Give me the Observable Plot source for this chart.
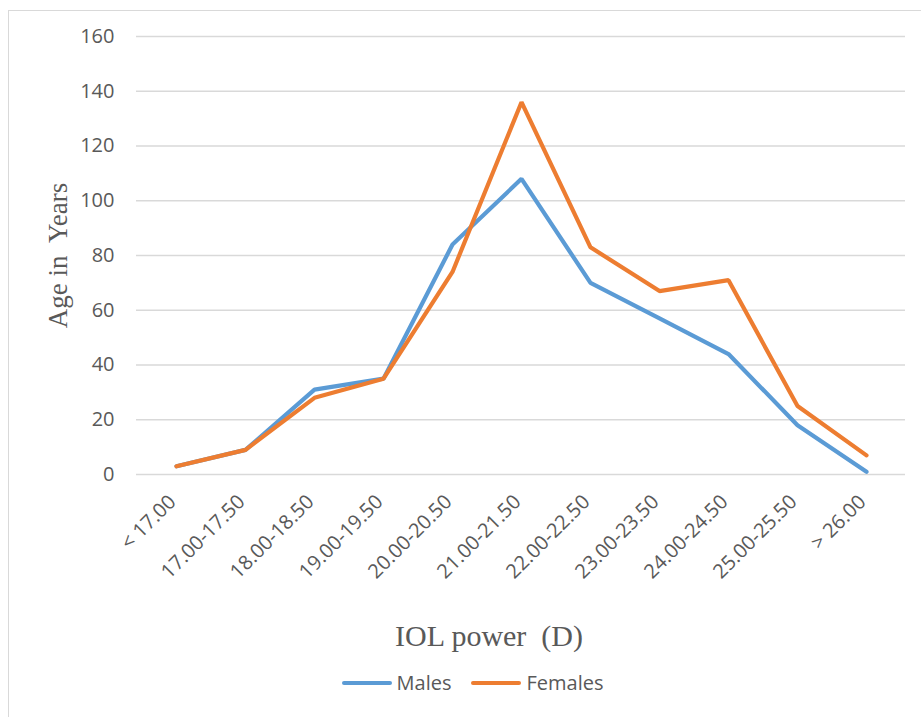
<!DOCTYPE html>
<html>
<head>
<meta charset="utf-8">
<script src="https://cdn.jsdelivr.net/npm/d3@7"></script>
<script src="https://cdn.jsdelivr.net/npm/@observablehq/plot@0.6"></script>
<style>
  html, body { margin: 0; padding: 0; background: #fff; }
  #wrap { position: relative; width: 921px; height: 717px; overflow: hidden; }
  #frame { position: absolute; left: 8px; top: 10px; width: 940px; height: 740px; border: 1.5px solid #d9d9d9; box-sizing: border-box; }
  #chart { position: absolute; left: 0; top: 0; }
  #legend { position: absolute; left: 12px; top: 669px; width: 921px; display: flex; justify-content: center; gap: 20px; font-family: "Open Sans", "Noto Sans", sans-serif; font-size: 20px; line-height: 27px; color: #595959; }
  .item { display: flex; align-items: center; }
  .sw { width: 50px; height: 4px; margin-right: 5px; border-radius: 2px; }
</style>
</head>
<body>
<div id="wrap">
  <div id="frame"></div>
  <div id="chart"></div>
  <div id="legend"></div>
</div>
<script>
const categories = ["< 17.00","17.00-17.50","18.00-18.50","19.00-19.50","20.00-20.50","21.00-21.50","22.00-22.50","23.00-23.50","24.00-24.50","25.00-25.50","> 26.00"];
const males   = [3, 9, 31, 35, 84, 108, 70, 57, 44, 18, 1];
const females = [3, 9, 28, 35, 74, 136, 83, 67, 71, 25, 7];
const yTicks = [0, 20, 40, 60, 80, 100, 120, 140, 160];
const seriesNames = ["Males", "Females"];
const colors = ["#5B9BD5", "#ED7D31"];

const rows = [];
categories.forEach((c, i) => {
  rows.push({cat: c, value: males[i], series: "Males"});
  rows.push({cat: c, value: females[i], series: "Females"});
});

const tickFont = "'Open Sans', 'Noto Sans', sans-serif";
const titleFont = "'Liberation Serif', 'DejaVu Serif', serif";

const chart = Plot.plot({
  width: 921,
  height: 660,
  marginLeft: 136,
  marginRight: 16,
  marginTop: 36,
  marginBottom: 186,
  style: {background: "transparent", color: "#595959"},
  x: {type: "point", domain: categories, padding: 0.5, label: null},
  y: {domain: [0, 160], label: null},
  color: {domain: seriesNames, range: colors},
  marks: [
    Plot.ruleY(yTicks, {stroke: "#d9d9d9", strokeWidth: 1.3}),
    Plot.axisY({ticks: yTicks, tickSize: 0, tickPadding: 22, fontSize: 20, fontFamily: tickFont, label: null}),
    Plot.axisX({tickSize: 0, tickPadding: 24, tickRotate: -45, dx: -4, fontSize: 20, fontFamily: tickFont, label: null}),
    Plot.line(rows, {x: "cat", y: "value", z: "series", stroke: "series", strokeWidth: 4.2, strokeLinejoin: "miter", strokeLinecap: "round"}),
    Plot.text(["Age in  Years"], {frameAnchor: "left", textAnchor: "middle", rotate: -90, dx: -78, fontSize: 27, fontFamily: titleFont, fill: "#595959"}),
    Plot.text(["IOL power \u00a0(D)"], {frameAnchor: "bottom", textAnchor: "middle", dx: -32, dy: 171, fontSize: 30, fontFamily: titleFont, fill: "#595959"})
  ]
});
document.getElementById("chart").appendChild(chart);

const legend = document.getElementById("legend");
seriesNames.forEach((n, i) => {
  const it = document.createElement("div");
  it.className = "item";
  const sw = document.createElement("div");
  sw.className = "sw";
  sw.style.background = colors[i];
  const t = document.createElement("span");
  t.textContent = n;
  it.appendChild(sw);
  it.appendChild(t);
  legend.appendChild(it);
});
</script>
</body>
</html>
